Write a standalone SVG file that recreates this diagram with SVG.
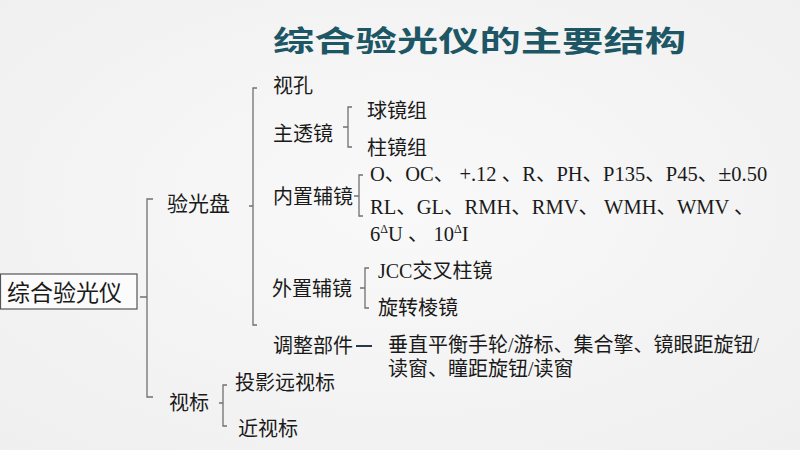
<svg xmlns="http://www.w3.org/2000/svg" width="800" height="450" viewBox="0 0 800 450">
<defs>
<radialGradient id="bg" cx="50%" cy="45%" r="75%">
<stop offset="0" stop-color="#f9f9f9"/>
<stop offset="1" stop-color="#efefef"/>
</radialGradient>
</defs>
<style>
.t{font-family:"Liberation Serif","Noto Sans CJK SC",serif;font-size:20px;fill:#1a1a1a}
.title{font-family:"Noto Sans CJK SC",sans-serif;font-weight:bold;font-size:29px;fill:#1d5765}
.br{fill:none;stroke:#707070;stroke-width:1.3}
.sup{font-size:12px}
</style>
<rect width="800" height="450" fill="url(#bg)"/>
<text class="title" x="273" y="52" textLength="413" lengthAdjust="spacingAndGlyphs">综合验光仪的主要结构</text>

<g id="connectors">
<path class="br" d="M153,199 H147 V397 H153 M140,297 H147"/>
<path class="br" d="M257,88 H253 V325 H257 M249,206 H253"/>
<path class="br" d="M352,107 H348 V147 H352 M343,127 H348"/>
<path class="br" d="M363,175 H359 V216 H363 M354,196 H359"/>
<path class="br" d="M369,268 H365 V308 H369 M360,288 H365"/>
<path class="br" d="M227,385 H223 V426 H227 M219,403 H223"/>
<line x1="356" y1="346" x2="372" y2="346" stroke="#2b3650" stroke-width="2"/>
</g>

<g id="root">
<rect x="0.5" y="274" width="136.5" height="35" fill="#fbfbfb" stroke="#555" stroke-width="1.2"/>
<text class="t" x="7" y="300.5" style="font-size:23px">综合验光仪</text>
</g>
<g id="yanguangpan"><text class="t" x="167" y="211" style="font-size:21px">验光盘</text></g>
<g id="shibiao"><text class="t" x="169" y="410">视标</text></g>
<g id="shikong"><text class="t" x="273" y="92.5">视孔</text></g>
<g id="zhutoujing"><text class="t" x="273" y="140.5">主透镜</text></g>
<g id="qiujingzu"><text class="t" x="367" y="117.5">球镜组</text></g>
<g id="zhujingzu"><text class="t" x="367" y="154.5">柱镜组</text></g>
<g id="neizhi"><text class="t" x="273" y="203.5">内置辅镜</text></g>
<g id="neizhi-items">
<text class="t" x="370" y="181" style="font-size:20.5px">O、OC、 +.12 、R、PH、P135、P45、<tspan style="font-size:24px">±</tspan>0.50</text>
<text class="t" x="370" y="214" style="font-size:20.5px">RL、GL、RMH、RMV、 WMH、WMV 、</text>
<text class="t" x="370" y="241" style="font-size:20.5px">6<tspan class="sup" dy="-8">Δ</tspan><tspan dy="8">U 、 10</tspan><tspan class="sup" dy="-8">Δ</tspan><tspan dy="8">I</tspan></text>
</g>
<g id="waizhi"><text class="t" x="272" y="295.5">外置辅镜</text></g>
<g id="jcc"><text class="t" x="378" y="277.5">JCC交叉柱镜</text></g>
<g id="xuanzhuan"><text class="t" x="378" y="314.5">旋转棱镜</text></g>
<g id="tiaozheng"><text class="t" x="273" y="352.5">调整部件</text></g>
<g id="tiaozheng-items">
<text class="t" x="388" y="351.5">垂直平衡手轮/游标、集合擎、镜眼距旋钮/</text>
<text class="t" x="388" y="375.5">读窗、瞳距旋钮/读窗</text>
</g>
<g id="touying"><text class="t" x="235" y="389.5">投影远视标</text></g>
<g id="jinshibiao"><text class="t" x="238" y="435.5">近视标</text></g>
</svg>
